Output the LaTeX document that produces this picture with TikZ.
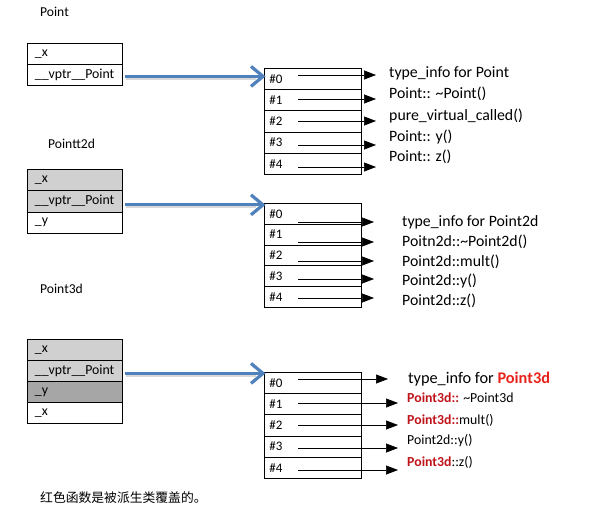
\documentclass[tikz,border=0pt]{standalone}
\usepackage{fontspec}
\setmainfont{Carlito}
\newfontfamily\cjkfont{Noto Sans CJK SC}
\usetikzlibrary{arrows.meta}
\definecolor{lgray}{HTML}{D0D0D0}
\definecolor{dgray}{HTML}{A6A6A6}
\definecolor{vblue}{HTML}{4F81BD}
\definecolor{hired}{HTML}{E8231C}
\definecolor{dred}{HTML}{C0141C}
\begin{document}
\begin{tikzpicture}[x=1pt,y=-1pt,
  lcell/.style={draw, line width=0.8pt, minimum width=95pt, text width=80pt, inner xsep=7.5pt, inner ysep=0pt, align=left, anchor=north west, font=\fontsize{13.8}{15}\selectfont},
  vcell/.style={draw, line width=0.8pt, minimum width=97pt, text width=87pt, inner xsep=5pt, inner ysep=0pt, align=left, anchor=north west, font=\fontsize{13}{14}\selectfont},
  title/.style={anchor=west, inner sep=0pt, font=\fontsize{13.6}{15}\selectfont},
  fn/.style={anchor=west, inner sep=0pt, font=\fontsize{15.8}{17}\selectfont},
  bfn/.style={anchor=west, inner sep=0pt, font=\fontsize{16.3}{18}\selectfont},
  sfn/.style={anchor=west, inner sep=0pt, font=\fontsize{13.8}{15}\selectfont},
  ptr/.style={-{Triangle[length=12pt,width=9pt]}, line width=0.7pt},
  vptr/.style={vblue, line width=3.2pt, -{Straight Barb[length=12pt,width=20pt]}},
  shadowline/.style={black!15, line width=3.2pt}
]
\useasboundingbox[fill=white] (0,0) rectangle (609,511);

% titles
\node[title] (t1) at (40,12) {Point};
\node[title] (t2) at (48,144) {Pointt2d};
\node[title] (t3) at (40,289) {Point3d};

% left boxes
\node[lcell, minimum height=21pt] (p1x) at (27,43) {\_x};
\node[lcell, minimum height=21pt] (p1v) at (27,64) {\_\_vptr\_\_Point};

\node[lcell, minimum height=21.3pt, fill=lgray] (p2x) at (27,169) {\_x};
\node[lcell, minimum height=21.3pt, fill=lgray] (p2v) at (27,190.3) {\_\_vptr\_\_Point};
\node[lcell, minimum height=21.3pt] (p2y) at (27,211.6) {\_y};

\node[lcell, minimum height=21pt, fill=lgray] (p3x) at (27,339) {\_x};
\node[lcell, minimum height=21pt, fill=lgray] (p3v) at (27,360) {\_\_vptr\_\_Point};
\node[lcell, minimum height=21pt, fill=dgray] (p3y) at (27,381) {\_y};
\node[lcell, minimum height=21pt] (p3z) at (27,402) {\_x};

% vtables
\foreach \i in {0,...,4} {
  \node[vcell, minimum height=21.2pt] (ta\i) at (264,{68+21.2*\i}) {\#\i};
  \node[vcell, minimum height=20.8pt] (tb\i) at (264,{203+20.8*\i}) {\#\i};
  \node[vcell, minimum height=21.2pt] (tc\i) at (264,{372+21.2*\i}) {\#\i};
}

% blue vptr arrows
\foreach \p/\t/\s in {p1v/ta0/-1.5pt, p2v/tb0/-3.5pt, p3v/tc0/-2.5pt} {
  \draw[shadowline] ([shift={(3pt,\s-1.8pt)}]\p.east) -- ([shift={(-8pt,\s-1.8pt)}]\p.east -| \t.west);
  \draw[vptr] ([shift={(2pt,\s)}]\p.east) -- ([shift={(1.5pt,\s)}]\p.east -| \t.west);
}

% table 1 pointers
\foreach \y [count=\i from 0] in {75,99,121,145,167} {
  \coordinate (sa\i) at (298,\y);
  \coordinate (ea\i) at (376,\y);
  \draw[ptr] (sa\i) -- (ea\i);
}
\node[fn] (fa0) at (389,73) {type\_info for Point};
\node[fn] (fa1) at (389,94) {Point:: \textasciitilde Point()};
\node[fn] (fa2) at (389,116) {pure\_virtual\_called()};
\node[fn] (fa3) at (389,137) {Point:: y()};
\node[fn] (fa4) at (389,157) {Point:: z()};

% table 2 pointers
\foreach \y [count=\i from 0] in {222,242,261,279,298} {
  \coordinate (sb\i) at (298,\y);
  \coordinate (eb\i) at (374,\y);
  \draw[ptr] (sb\i) -- (eb\i);
}
\node[fn] (fb0) at (402,222) {type\_info for Point2d};
\node[fn] (fb1) at (402,242) {Poitn2d::\textasciitilde Point2d()};
\node[fn] (fb2) at (402,262) {Point2d::mult()};
\node[fn] (fb3) at (402,281) {Point2d::y()};
\node[fn] (fb4) at (402,301) {Point2d::z()};

% table 3 pointers
\foreach \y/\e [count=\i from 0] in {379/388,403/398,425/398,448/398,470/398} {
  \coordinate (sc\i) at (298,\y);
  \coordinate (ec\i) at (\e,\y);
  \draw[ptr] (sc\i) -- (ec\i);
}
\node[bfn] (fc0) at (408,379) {type\_info for \textcolor{hired}{\bfseries Point3d}};
\node[sfn] (fc1) at (407,398) {\textcolor{dred}{\bfseries Point3d::} \textasciitilde Point3d};
\node[sfn] (fc2) at (407,420) {\textcolor{dred}{\bfseries Point3d::}mult()};
\node[sfn] (fc3) at (407,441) {Point2d::y()};
\node[sfn] (fc4) at (407,462) {\textcolor{dred}{\bfseries Point3d}::z()};

% note
\node[anchor=west, inner sep=0pt, font=\cjkfont\fontsize{12.8}{15}\selectfont] (note) at (40,498) {红色函数是被派生类覆盖的。};
\end{tikzpicture}
\end{document}
